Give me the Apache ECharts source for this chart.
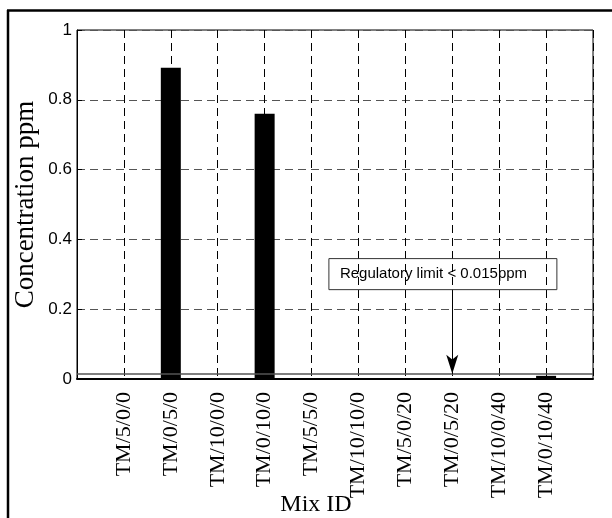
<!DOCTYPE html>
<html>
<head>
<meta charset="utf-8">
<script src="https://cdn.jsdelivr.net/npm/echarts@6/dist/echarts.min.js"></script>
<style>
  html, body { margin: 0; padding: 0; background: #fff; }
  #chart { width: 612px; height: 518px; }
</style>
</head>
<body>
<div id="chart"></div>
<script>
// Mix designs along the x axis
const categories = ['TM/5/0/0', 'TM/0/5/0', 'TM/10/0/0', 'TM/0/10/0', 'TM/5/5/0',
  'TM/10/10/0', 'TM/5/0/20', 'TM/0/5/20', 'TM/10/0/40', 'TM/0/10/40'];
// Measured concentration (ppm) for each mix
const concentration = [0, 0.892, 0, 0.760, 0, 0, 0, 0, 0, 0.009];
// Regulatory limit and its note
const regulatoryLimit = 0.015;
const limitNote = 'Regulatory limit < 0.015ppm';
const limitMixIndex = 8;          // note points at TM/0/5/20
const noteBox = { x0: 5.37, x1: 10.23, y0: 0.256, y1: 0.345 };

const chart = echarts.init(document.getElementById('chart'), null, { renderer: 'canvas' });

const barData = concentration.map((v, i) => [i + 1, v]);

chart.setOption({
  animation: false,
  backgroundColor: '#fff',
  grid: {
    left: 77, right: 19, top: 30, bottom: 139,
    containLabel: false, outerBoundsMode: 'none',
    show: true, borderColor: '#000', borderWidth: 1, backgroundColor: 'transparent'
  },
  xAxis: {
    type: 'value', min: 0, max: categories.length + 1, interval: 1,
    name: 'Mix ID', nameLocation: 'middle', nameGap: 114, nameMoveOverlap: false,
    nameTextStyle: { fontFamily: 'Liberation Serif', fontSize: 24, color: '#000', padding: [0, 38, 0, 0] },
    axisLine: { show: true, onZero: false, lineStyle: { color: '#000', width: 2 } },
    axisTick: { show: false },
    axisLabel: {
      rotate: 90, margin: 13, color: '#000',
      fontFamily: 'Liberation Serif', fontSize: 22,
      formatter: v => categories[v - 1] || ''
    },
    splitLine: { show: true, lineStyle: { color: '#000', width: 1, type: [8, 5] } }
  },
  yAxis: {
    type: 'value', min: 0, max: 1, interval: 0.2,
    name: 'Concentration ppm', nameLocation: 'middle', nameGap: 38, nameMoveOverlap: false,
    nameTextStyle: { fontFamily: 'Liberation Serif', fontSize: 27, color: '#000' },
    axisLine: { show: true, lineStyle: { color: '#000', width: 1 } },
    axisTick: { show: true, inside: true, length: 5, lineStyle: { color: '#000' } },
    axisLabel: { margin: 5, color: '#000', fontFamily: 'Liberation Sans', fontSize: 17 },
    splitLine: { show: true, lineStyle: { color: '#555', width: 1, type: [8, 5] } }
  },
  series: [{
    type: 'bar',
    data: barData,
    barWidth: 20,
    itemStyle: { color: '#000' },
    silent: true,
    markLine: {
      silent: true,
      animation: false,
      label: { show: false },
      data: [
        [
          { coord: [0, regulatoryLimit], symbol: 'none' },
          { coord: [categories.length + 1, regulatoryLimit], symbol: 'none',
            lineStyle: { color: '#555', width: 1.5, type: 'solid' } }
        ],
        [
          { coord: [limitMixIndex, noteBox.y0], symbol: 'none' },
          { coord: [limitMixIndex, regulatoryLimit], symbol: 'arrow', symbolSize: [9, 19],
            lineStyle: { color: '#000', width: 1, type: 'solid' } }
        ]
      ]
    }
  }]
});

// Annotation box anchored to data coordinates
const p0 = chart.convertToPixel({ gridIndex: 0 }, [noteBox.x0, noteBox.y1]);
const p1 = chart.convertToPixel({ gridIndex: 0 }, [noteBox.x1, noteBox.y0]);

chart.setOption({
  graphic: [
    // outer frame
    { type: 'line', shape: { x1: 7, y1: 10.5, x2: 612, y2: 10.5 }, style: { stroke: '#000', lineWidth: 2.5 }, silent: true },
    { type: 'line', shape: { x1: 8, y1: 10, x2: 8, y2: 518 }, style: { stroke: '#000', lineWidth: 2.5 }, silent: true },
    {
      type: 'rect', silent: true, z: 10,
      shape: { x: p0[0], y: p0[1], width: p1[0] - p0[0], height: p1[1] - p0[1] },
      style: { fill: 'rgba(255,255,255,0)', stroke: '#333', lineWidth: 1 }
    },
    {
      type: 'text', silent: true, z: 11,
      x: p0[0] + 11, y: (p0[1] + p1[1]) / 2,
      style: {
        text: limitNote, fill: '#000', font: '15px "Liberation Sans"',
        align: 'left', verticalAlign: 'middle'
      }
    }
  ]
});
</script>
</body>
</html>
